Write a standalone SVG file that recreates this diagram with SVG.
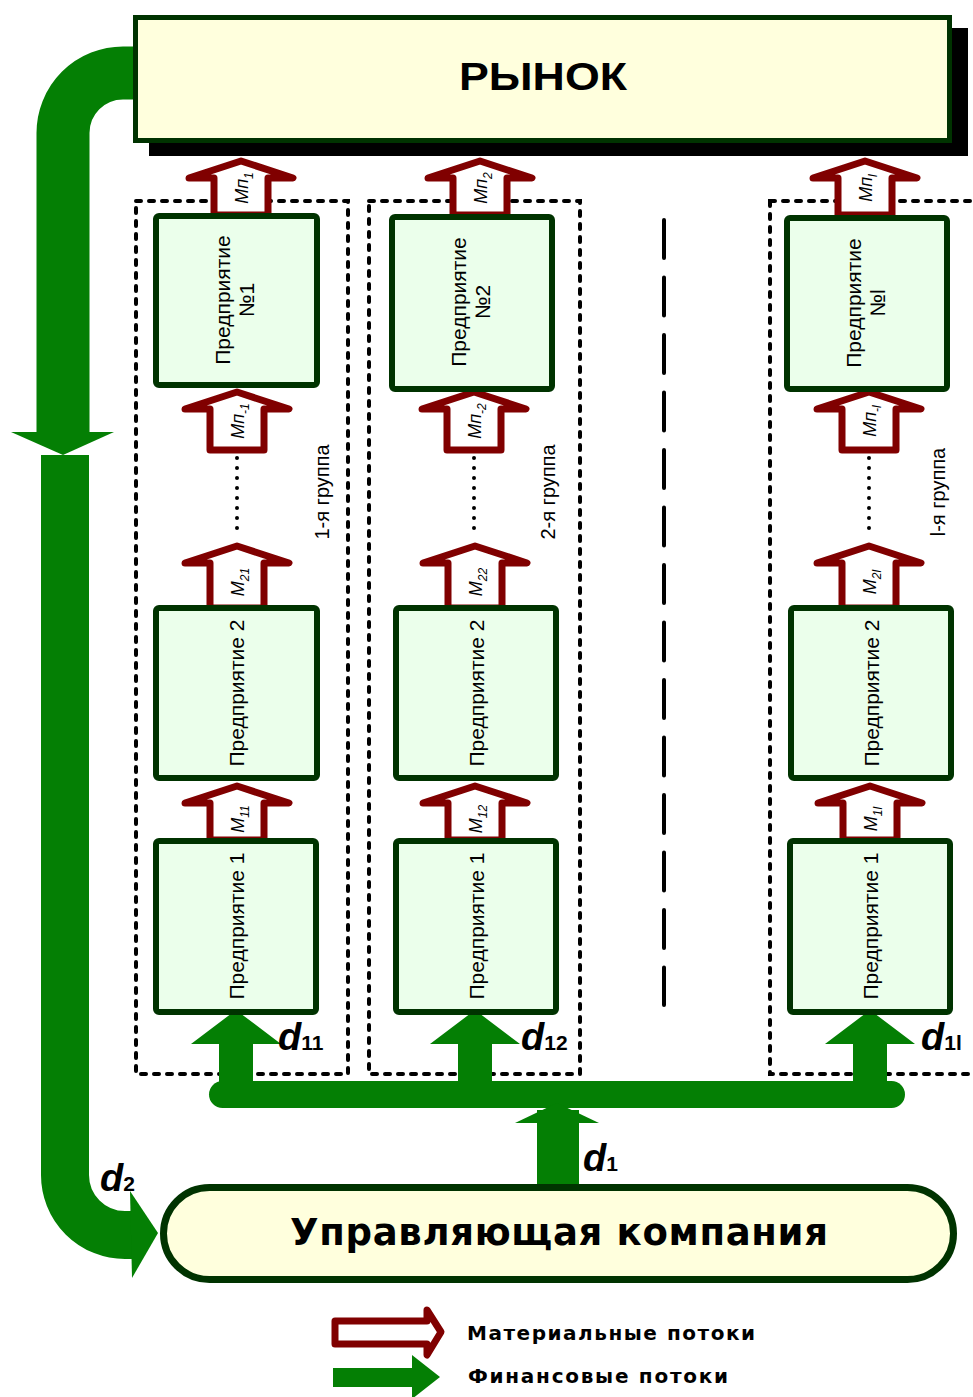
<svg xmlns="http://www.w3.org/2000/svg" xmlns:xlink="http://www.w3.org/1999/xlink" width="973" height="1397" viewBox="0 0 973 1397">
<style>
.ent{fill:#EBFFEB;stroke:#003300;stroke-width:6}
.grp{fill:none;stroke:#000;stroke-width:4;stroke-dasharray:5 8;stroke-linecap:round}
.mat{fill:#fff;stroke:#800000;stroke-width:7;stroke-linejoin:round}
.fin{fill:#047F04}
.et{font-family:'Liberation Sans',Arial,sans-serif;font-size:21px;fill:#000;text-anchor:middle;dominant-baseline:central}
.ml{font-family:'Liberation Sans',Arial,sans-serif;font-size:18px;font-style:italic;fill:#000;text-anchor:middle;dominant-baseline:central}
.sb{font-size:12px}
.gl{font-family:'Liberation Sans',Arial,sans-serif;font-size:20px;fill:#000;text-anchor:middle;dominant-baseline:central}
.dl{font-family:'Liberation Sans',Arial,sans-serif;font-size:38px;font-weight:bold;font-style:italic;fill:#000}
.ds{font-size:21px;font-style:normal}
.dots{stroke:#000;stroke-width:4;stroke-linecap:round;stroke-dasharray:0 10}
.lg{font-family:'DejaVu Sans',sans-serif;font-size:20px;font-weight:bold;fill:#000}
</style>
<defs>
<path id="ma54" class="mat" d="M0,0 L52,17 L27,17 L27,54 L-27,54 L-27,17 L-52,17 Z"/>
<path id="ma58" class="mat" d="M0,0 L52,17 L27,17 L27,58 L-27,58 L-27,17 L-52,17 Z"/>
<path id="ma62" class="mat" d="M0,0 L52,17 L27,17 L27,62 L-27,62 L-27,17 L-52,17 Z"/>
<path id="fa" class="fin" d="M0,0 L45,34 L17,34 L17,80 L-17,80 L-17,34 L-45,34 Z"/>
</defs>
<rect width="973" height="1397" fill="#fff"/>

<g id="groups">
<rect class="grp" x="136" y="201" width="212" height="873"/>
<rect class="grp" x="369" y="201" width="211" height="873"/>
<rect class="grp" x="770" y="201" width="215" height="873"/>
<line x1="664" y1="220" x2="664" y2="1005" stroke="#000" stroke-width="4" stroke-linecap="round" stroke-dasharray="38 19.5"/>
</g>

<g id="connectors">
<path d="M140,73 H123 A60,60 0 0 0 63,133 V434" fill="none" stroke="#047F04" stroke-width="53"/>
<polygon class="fin" points="11,432 114,432 63,455"/>
<path d="M65,455 V1175 A60,60 0 0 0 125,1235 H132" fill="none" stroke="#047F04" stroke-width="48"/>
<polygon class="fin" points="130,1191 158,1233 132,1278"/>
<rect class="fin" x="209" y="1081" width="696" height="27" rx="13.5"/>
<use xlink:href="#fa" x="236" y="1010"/>
<use xlink:href="#fa" x="475" y="1010"/>
<use xlink:href="#fa" x="870" y="1010"/>
<rect class="fin" x="537" y="1110" width="42" height="78"/>
<polygon class="fin" points="515,1123 599,1123 557,1103"/>
<use xlink:href="#ma54" x="241" y="161"/>
<use xlink:href="#ma54" x="480" y="161"/>
<use xlink:href="#ma54" x="865" y="161"/>
<use xlink:href="#ma58" x="237" y="392"/>
<use xlink:href="#ma58" x="474" y="392"/>
<use xlink:href="#ma58" x="869" y="392"/>
<use xlink:href="#ma62" x="237" y="546"/>
<use xlink:href="#ma62" x="475" y="546"/>
<use xlink:href="#ma62" x="869" y="546"/>
<use xlink:href="#ma54" x="237" y="786"/>
<use xlink:href="#ma54" x="475" y="786"/>
<use xlink:href="#ma54" x="870" y="786"/>
<line class="dots" x1="237" y1="458" x2="237" y2="538"/>
<line class="dots" x1="474" y1="458" x2="474" y2="538"/>
<line class="dots" x1="869" y1="458" x2="869" y2="538"/>
<text class="ml" transform="translate(242,188) rotate(-90)">Мп<tspan class="sb" baseline-shift="sub">1</tspan></text>
<text class="ml" transform="translate(481,188) rotate(-90)">Мп<tspan class="sb" baseline-shift="sub">2</tspan></text>
<text class="ml" transform="translate(866,188) rotate(-90)">Мп<tspan class="sb" baseline-shift="sub">l</tspan></text>
<text class="ml" transform="translate(238,421) rotate(-90)">Мп<tspan class="sb" baseline-shift="sub">-1</tspan></text>
<text class="ml" transform="translate(475,421) rotate(-90)">Мп<tspan class="sb" baseline-shift="sub">-2</tspan></text>
<text class="ml" transform="translate(870,421) rotate(-90)">Мп<tspan class="sb" baseline-shift="sub">-l</tspan></text>
<text class="ml" transform="translate(238,582) rotate(-90)">М<tspan class="sb" baseline-shift="sub">21</tspan></text>
<text class="ml" transform="translate(476,582) rotate(-90)">М<tspan class="sb" baseline-shift="sub">22</tspan></text>
<text class="ml" transform="translate(870,582) rotate(-90)">М<tspan class="sb" baseline-shift="sub">2l</tspan></text>
<text class="ml" transform="translate(238,819) rotate(-90)">М<tspan class="sb" baseline-shift="sub">11</tspan></text>
<text class="ml" transform="translate(476,819) rotate(-90)">М<tspan class="sb" baseline-shift="sub">12</tspan></text>
<text class="ml" transform="translate(871,819) rotate(-90)">М<tspan class="sb" baseline-shift="sub">1l</tspan></text>
<text class="dl" x="278" y="1050">d<tspan class="ds">11</tspan></text>
<text class="dl" x="521" y="1050">d<tspan class="ds">12</tspan></text>
<text class="dl" x="921" y="1050">d<tspan class="ds">1l</tspan></text>
<text class="dl" x="583" y="1171">d<tspan class="ds">1</tspan></text>
<text class="dl" x="100" y="1191">d<tspan class="ds">2</tspan></text>
</g>

<text class="gl" transform="translate(322,492) rotate(-90)">1-я группа</text>
<text class="gl" transform="translate(548,492) rotate(-90)">2-я группа</text>
<text class="gl" transform="translate(938,492) rotate(-90)">l-я группа</text>

<g id="market">
<rect x="149" y="28" width="819" height="128" fill="#000"/>
<rect x="135.5" y="17.5" width="814" height="123" fill="#FFFFDD" stroke="#003300" stroke-width="5"/>
<text x="543" y="90" font-family="'Liberation Sans',Arial,sans-serif" font-size="39" font-weight="bold" text-anchor="middle" textLength="168" lengthAdjust="spacingAndGlyphs">РЫНОК</text>
</g>

<g id="ent-1-n">
<rect class="ent" x="156" y="216" width="161" height="169" rx="3"/>
<text class="et" transform="translate(222,300) rotate(-90)">Предприятие</text>
<text class="et" transform="translate(246,300) rotate(-90)">№1</text>
</g>
<g id="ent-2-n">
<rect class="ent" x="392" y="217" width="160" height="172" rx="3"/>
<text class="et" transform="translate(458,302) rotate(-90)">Предприятие</text>
<text class="et" transform="translate(482,302) rotate(-90)">№2</text>
</g>
<g id="ent-l-n">
<rect class="ent" x="787" y="218" width="160" height="171" rx="3"/>
<text class="et" transform="translate(853,303) rotate(-90)">Предприятие</text>
<text class="et" transform="translate(877,303) rotate(-90)">№l</text>
</g>
<g id="ent-1-2">
<rect class="ent" x="156" y="608" width="161" height="170" rx="3"/>
<text class="et" transform="translate(236,693) rotate(-90)">Предприятие 2</text>
</g>
<g id="ent-2-2">
<rect class="ent" x="396" y="608" width="160" height="170" rx="3"/>
<text class="et" transform="translate(476,693) rotate(-90)">Предприятие 2</text>
</g>
<g id="ent-l-2">
<rect class="ent" x="791" y="608" width="160" height="170" rx="3"/>
<text class="et" transform="translate(871,693) rotate(-90)">Предприятие 2</text>
</g>
<g id="ent-1-1">
<rect class="ent" x="156" y="841" width="160" height="171" rx="3"/>
<text class="et" transform="translate(236,926) rotate(-90)">Предприятие 1</text>
</g>
<g id="ent-2-1">
<rect class="ent" x="396" y="841" width="160" height="171" rx="3"/>
<text class="et" transform="translate(476,926) rotate(-90)">Предприятие 1</text>
</g>
<g id="ent-l-1">
<rect class="ent" x="790" y="841" width="160" height="171" rx="3"/>
<text class="et" transform="translate(870,926) rotate(-90)">Предприятие 1</text>
</g>

<g id="company">
<rect x="163.5" y="1187.5" width="790" height="92" rx="46" fill="#FFFFDD" stroke="#003300" stroke-width="7"/>
<text x="559" y="1245" font-family="'DejaVu Sans',sans-serif" font-size="37" font-weight="bold" text-anchor="middle" textLength="538" lengthAdjust="spacing">Управляющая компания</text>
</g>

<g id="legend">
<path d="M335,1321 H427 V1310 L441,1332 L427,1355 V1344 H335 Z" class="mat" stroke-width="6"/>
<text class="lg" x="467" y="1340" textLength="288" lengthAdjust="spacing">Материальные потоки</text>
<path class="fin" d="M333,1368 H412 V1355 L440,1377 L412,1399 V1387 H333 Z"/>
<text class="lg" x="468" y="1383" textLength="260" lengthAdjust="spacing">Финансовые потоки</text>
</g>
</svg>
